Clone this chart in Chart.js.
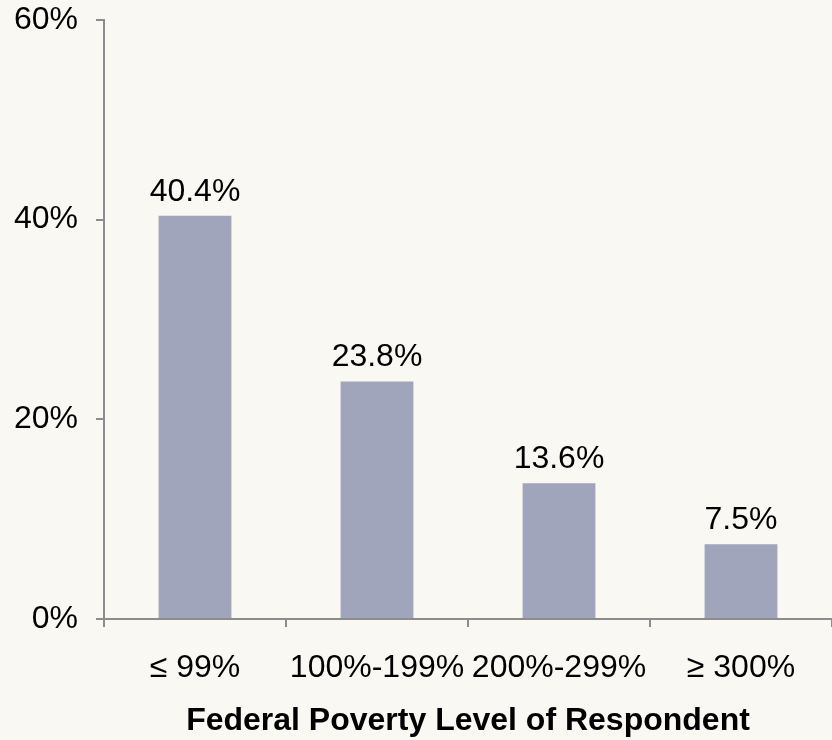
<!DOCTYPE html>
<html>
<head>
<meta charset="utf-8">
<script src="https://cdn.jsdelivr.net/npm/chart.js@4/dist/chart.umd.min.js"></script>
<style>
html, body { margin: 0; padding: 0; background: #f9f8f3; }
#wrap { width: 832px; height: 740px; }
</style>
</head>
<body>
<div id="wrap"><canvas id="myChart" width="832" height="740"></canvas></div>
<script>
// categories and values
var categories = ["\u2264 99%", "100%-199%", "200%-299%", "\u2265 300%"];
var values = [40.4, 23.8, 13.6, 7.5];
var valueLabels = ["40.4%", "23.8%", "13.6%", "7.5%"];
var yTicks = [0, 20, 40, 60];

var axisColor = "#8c8c8c";
var barColor = "#a1a5bb";
var fontFam = "'Liberation Sans', Arial, sans-serif";

// draw the value above each bar
var barLabels = {
  id: "barLabels",
  afterDatasetsDraw: function(chart) {
    var ctx = chart.ctx;
    var meta = chart.getDatasetMeta(0);
    ctx.save();
    ctx.font = "32px " + fontFam;
    ctx.fillStyle = "#000";
    ctx.textAlign = "center";
    ctx.textBaseline = "alphabetic";
    meta.data.forEach(function(bar, i) {
      ctx.fillText(valueLabels[i], bar.x, bar.y - 15);
    });
    ctx.restore();
  }
};

new Chart("myChart", {
  type: "bar",
  data: {
    labels: categories,
    datasets: [{
      data: values,
      backgroundColor: barColor,
      barPercentage: 0.4,
      categoryPercentage: 1
    }]
  },
  options: {
    responsive: false,
    animation: false,
    layout: { padding: { top: 20, right: 0, left: 0, bottom: 0 } },
    plugins: { legend: { display: false }, tooltip: { enabled: false } },
    scales: {
      x: {
        grid: { drawOnChartArea: false, drawTicks: true, tickLength: 8, color: axisColor, lineWidth: 2 },
        border: { display: true, color: axisColor, width: 2 },
        ticks: { color: "#000", font: { family: fontFam, size: 32 }, padding: 22, maxRotation: 0, autoSkip: false },
        title: {
          display: true,
          text: "Federal Poverty Level of Respondent",
          color: "#000",
          font: { family: fontFam, size: 32, weight: "bold" },
          padding: { top: 10, bottom: 0 }
        },
        afterFit: function(s) { s.height = 121; s.paddingLeft = 0; s.paddingRight = 0; }
      },
      y: {
        min: 0,
        max: 60,
        afterBuildTicks: function(s) { s.ticks = yTicks.map(function(v) { return { value: v }; }); },
        grid: { drawOnChartArea: false, drawTicks: true, tickLength: 8, color: axisColor, lineWidth: 2 },
        border: { display: true, color: axisColor, width: 2 },
        ticks: {
          color: "#000",
          font: { family: fontFam, size: 32 },
          padding: 18,
          callback: function(v) { return v + "%"; }
        },
        afterFit: function(s) { s.width = 104; s.paddingTop = 0; s.paddingBottom = 0; }
      }
    }
  },
  plugins: [barLabels]
});
</script>
</body>
</html>
